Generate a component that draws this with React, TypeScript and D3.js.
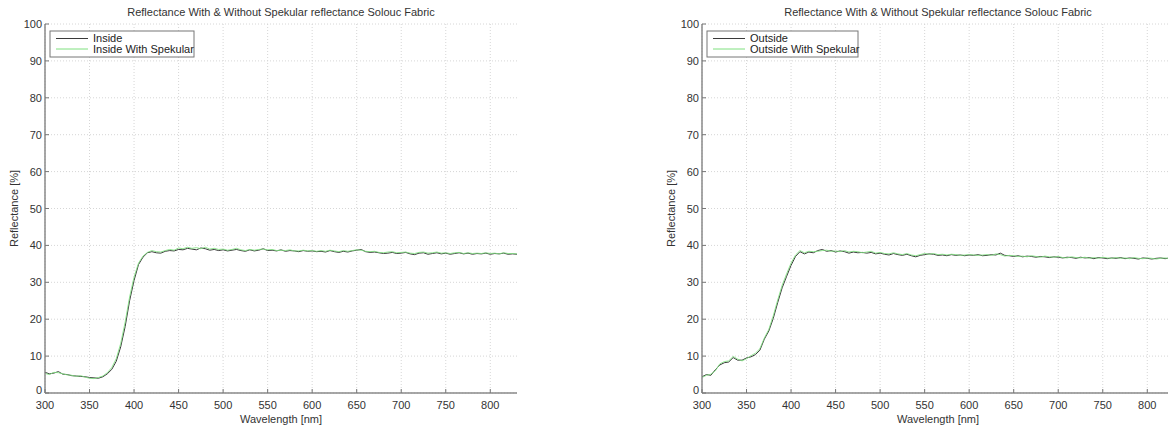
import React from "react";
import * as d3 from "d3";

const wavelengths: number[] = d3.range(300, 831, 5);

const insideValues = [5.6,5.2,5.4,5.8,5.1,5.0,4.7,4.6,4.5,4.4,4.2,4.1,4.0,4.4,5.2,6.4,8.6,12.5,18.0,25.0,30.5,34.8,36.8,38.0,38.3,38.0,37.9,38.4,38.6,38.5,38.9,38.8,39.2,39.0,38.8,39.3,39.1,38.7,38.9,38.6,38.8,38.5,38.7,38.9,38.6,38.4,38.8,38.5,38.7,39.1,38.6,38.7,38.5,38.8,38.4,38.6,38.5,38.3,38.6,38.4,38.5,38.3,38.4,38.2,38.6,38.3,38.1,38.4,38.2,38.5,38.7,38.9,38.3,38.1,38.2,38.0,37.8,37.9,38.1,37.8,37.9,38.1,37.7,37.5,37.9,38.0,37.6,37.8,38.0,37.7,37.9,37.6,37.8,38.0,37.7,37.9,37.6,37.8,37.7,37.9,37.6,37.8,37.7,37.9,37.6,37.7,37.6];
const insideSpecValues = [5.3,5.0,5.6,5.5,5.2,4.9,4.8,4.5,4.7,4.3,4.0,3.9,4.2,4.6,5.5,6.9,9.3,13.4,19.2,26.0,31.4,35.2,37.1,38.1,38.6,38.3,38.2,38.6,38.9,38.7,39.3,39.1,39.5,39.2,39.4,39.1,39.5,39.0,39.2,38.9,39.0,38.7,38.9,39.2,38.8,38.6,38.9,38.7,38.9,39.0,38.8,38.9,38.6,38.7,38.6,38.8,38.5,38.5,38.7,38.5,38.6,38.4,38.6,38.4,38.7,38.5,38.3,38.6,38.4,38.6,38.8,38.7,38.4,38.3,38.4,38.1,38.0,38.2,38.3,38.0,38.1,38.2,37.9,37.8,38.1,38.2,37.9,38.0,38.2,37.9,38.0,37.8,38.0,38.1,37.8,38.0,37.8,37.9,37.8,38.0,37.8,37.9,37.7,38.0,37.8,37.8,37.7];
const outsideValues = [4.4,5.0,4.8,6.3,7.6,8.2,8.4,9.6,8.9,8.9,9.5,9.8,10.4,11.6,14.6,16.8,20.2,24.5,28.5,31.6,34.6,37.0,38.3,37.7,38.2,38.0,38.6,38.9,38.4,38.6,38.2,38.5,38.3,37.9,38.2,38.0,38.1,37.9,38.1,37.7,37.9,37.6,37.4,37.8,37.5,37.3,37.6,37.2,36.9,37.3,37.5,37.7,37.6,37.3,37.4,37.2,37.5,37.3,37.4,37.2,37.4,37.3,37.5,37.2,37.3,37.5,37.4,37.9,37.3,37.2,37.0,37.2,36.9,37.1,37.0,36.8,37.0,36.9,36.7,36.9,36.8,36.6,36.8,36.7,36.5,36.8,36.6,36.7,36.4,36.7,36.6,36.4,36.6,36.5,36.7,36.4,36.6,36.5,36.3,36.6,36.5,36.3,36.5,36.6,36.4,36.6,36.5];
const outsideSpecValues = [4.2,4.8,5.1,6.0,7.9,8.5,8.7,9.9,9.2,8.7,9.3,10.1,10.8,12.0,14.9,17.2,20.9,25.2,29.2,32.3,35.2,37.4,38.6,38.0,38.4,38.3,38.4,38.6,38.7,38.4,38.5,38.3,38.6,38.2,38.4,38.3,38.0,38.2,38.4,37.9,38.1,37.8,37.7,38.0,37.7,37.5,37.8,37.4,37.2,37.5,37.8,37.6,37.8,37.5,37.6,37.4,37.6,37.5,37.3,37.4,37.5,37.4,37.3,37.4,37.5,37.3,37.7,37.5,37.1,37.3,37.2,37.0,37.1,36.9,37.2,37.0,36.8,37.1,36.9,36.8,37.0,36.7,36.6,36.9,36.7,36.6,36.8,36.5,36.7,36.5,36.8,36.6,36.5,36.7,36.5,36.6,36.4,36.7,36.5,36.4,36.6,36.5,36.3,36.5,36.6,36.4,36.5];

const xTicks = [300,350,400,450,500,550,600,650,700,750,800];
const yTicks = [0,10,20,30,40,50,60,70,80,90,100];

const titleText = "Reflectance With & Without Spekular reflectance Solouc Fabric";
const xLabel = "Wavelength [nm]";
const yLabel = "Reflectance [%]";

const FONT = "'Liberation Sans', Arial, Helvetica, sans-serif";
const BLACK = "#3a3a3a";
const GREEN = "#7fe07f";

type PanelProps = {
  left: number;
  right: number;
  names: [string, string];
  a: number[];
  b: number[];
  legendWidth: number;
};

function Panel({ left, right, names, a, b, legendWidth }: PanelProps) {
  const x = d3.scaleLinear().domain([300, 830]).range([left, right]);
  const y = d3.scaleLinear().domain([0, 100]).range([393, 24]);
  const line = (vals: number[]) =>
    d3.line<number>()
      .x((_, i) => x(wavelengths[i]))
      .y((v) => y(v))(vals) || "";
  const top = y(100);
  const bottom = y(0);
  const cx = (left + right) / 2;
  const lx = left + 5;
  const ly = 31;
  return (
    <g fontFamily={FONT}>
      {/* grid */}
      {xTicks.map((t) => (
        <line key={"gx" + t} x1={x(t)} x2={x(t)} y1={top} y2={bottom} stroke="#d6d6d6" strokeDasharray="1,2" strokeWidth={1} />
      ))}
      {yTicks.map((t) => (
        <line key={"gy" + t} x1={left} x2={right} y1={y(t)} y2={y(t)} stroke="#d6d6d6" strokeDasharray="1,2" strokeWidth={1} />
      ))}
      {/* data */}
      <path d={line(a)} fill="none" stroke={BLACK} strokeWidth={1} />
      <path d={line(b)} fill="none" stroke={GREEN} strokeWidth={1} strokeOpacity={0.85} />
      {/* axes */}
      <line x1={left} x2={left} y1={top} y2={bottom} stroke="#8a8a8a" strokeWidth={1.5} />
      <line x1={left} x2={right} y1={bottom} y2={bottom} stroke="#8a8a8a" strokeWidth={1.5} />
      {xTicks.map((t) => (
        <g key={"tx" + t}>
          <line x1={x(t)} x2={x(t)} y1={bottom} y2={bottom - 4} stroke="#777" strokeWidth={1} />
          <text x={x(t)} y={bottom + 16} textAnchor="middle" fontSize={11} fill="#333">{t}</text>
        </g>
      ))}
      {yTicks.map((t) => (
        <g key={"ty" + t}>
          <line x1={left} x2={left + 4} y1={y(t)} y2={y(t)} stroke="#777" strokeWidth={1} />
          <text x={left - 3} y={y(t) + (t === 0 ? 1 : 4)} textAnchor="end" fontSize={11} fill="#333">{t}</text>
        </g>
      ))}
      {/* labels */}
      <text x={cx} y={16} textAnchor="middle" fontSize={11} fill="#333">{titleText}</text>
      <text x={cx} y={423} textAnchor="middle" fontSize={11} fill="#333">{xLabel}</text>
      <text transform={`translate(${left - 27},${(top + bottom) / 2}) rotate(-90)`} textAnchor="middle" fontSize={11} fill="#333">{yLabel}</text>
      {/* legend */}
      <rect x={lx} y={ly} width={legendWidth} height={26} fill="#fff" stroke="#777" strokeWidth={1} />
      <line x1={lx + 6} x2={lx + 38} y1={ly + 7.5} y2={ly + 7.5} stroke={BLACK} strokeWidth={1} />
      <text x={lx + 43} y={ly + 11} fontSize={11} fill="#222">{names[0]}</text>
      <line x1={lx + 6} x2={lx + 38} y1={ly + 18} y2={ly + 18} stroke={GREEN} strokeWidth={1} />
      <text x={lx + 43} y={ly + 21.5} fontSize={11} fill="#222">{names[1]}</text>
    </g>
  );
}

export default function App() {
  return (
    <svg width={1168} height={427} style={{ position: "absolute", left: 0, top: 0, background: "#fff" }}>
      <rect x={0} y={0} width={1168} height={427} fill="#fff" />
      <Panel left={45} right={517} names={["Inside", "Inside With Spekular"]} a={insideValues} b={insideSpecValues} legendWidth={144} />
      <Panel left={702} right={1174} names={["Outside", "Outside With Spekular"]} a={outsideValues} b={outsideSpecValues} legendWidth={151} />
    </svg>
  );
}
